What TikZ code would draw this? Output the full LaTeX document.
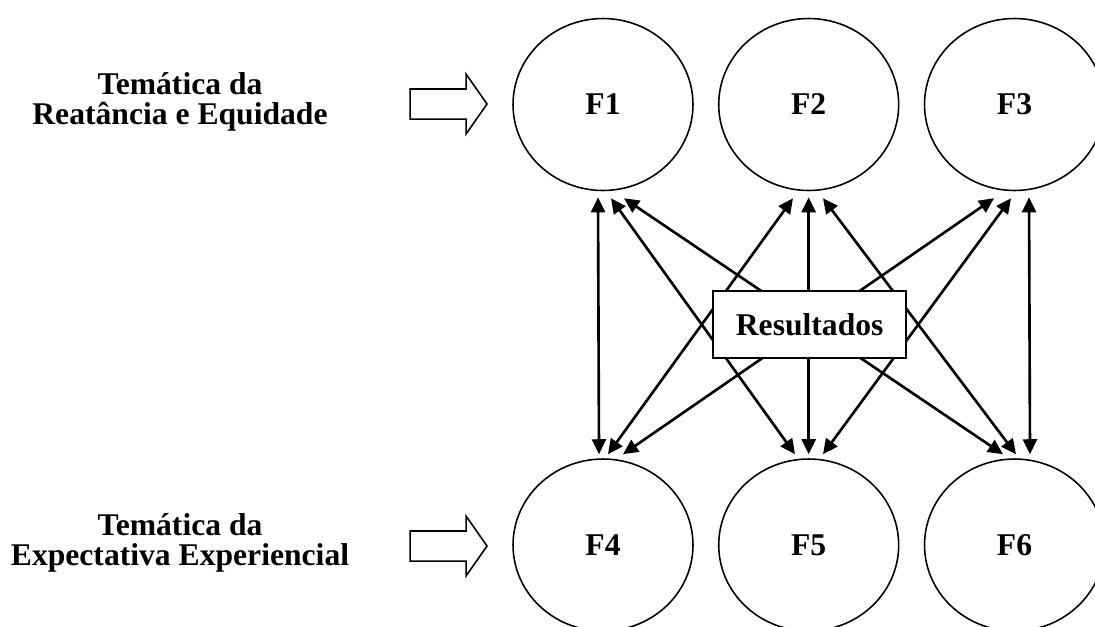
\documentclass[tikz,border=0pt]{standalone}
\usepackage{fontspec}
\setmainfont{Liberation Serif}
\usetikzlibrary{arrows.meta,shapes.geometric,shapes.arrows}

\begin{document}
\begin{tikzpicture}[x=0.02cm,y=-0.02cm,
  fator/.style={draw,ellipse,line width=0.9pt,minimum width=3.6cm,minimum height=3.44cm,inner sep=0pt,font=\fontsize{18}{20}\selectfont\bfseries},
  tema/.style={align=center,font=\fontsize{18}{17.4}\selectfont\bfseries},
  bloco/.style={draw,single arrow,line width=0.9pt,minimum height=1.54cm,inner sep=0.285cm,single arrow head extend=0.295cm,single arrow tip angle=110,anchor=tip},
  seta/.style={{Triangle[length=0.3cm,width=0.28cm]}-{Triangle[length=0.3cm,width=0.28cm]},line width=1.5pt}]

\useasboundingbox (0,0) rectangle (1095,626);
\clip (0,0) rectangle (1095,626);

% 1
\node[tema] (T1) at (180,102) {Temática da\\Reatância e Equidade};
\node[bloco] (S1) at (488,104) {};
\node[fator] (F1) at (603,104.5) {F1};
\node[fator] (F2) at (808.7,104.5) {F2};
\node[fator] (F3) at (1014.5,104.5) {F3};

% 2
\node[tema] (T2) at (180,543) {Temática da\\Expectativa Experiencial};
\node[bloco] (S2) at (488,546) {};
\node[fator] (F4) at (603,545) {F4};
\node[fator] (F5) at (808.7,545) {F5};
\node[fator] (F6) at (1014.5,545) {F6};


\draw[seta] ([shift={(-5,6)}]F1.south) -- ([shift={(-4,-4)}]F4.north);
\draw[seta] ([shift={(8,7)}]F1.south) -- ([shift={(-13.7,-4)}]F5.north);
\draw[seta] ([shift={(21,7)}]F1.south) -- ([shift={(-11.5,-4)}]F6.north);

\draw[seta] ([shift={(-15.7,7)}]F2.south) -- ([shift={(5,-4)}]F4.north);
\draw[seta] ([shift={(0,6)}]F2.south) -- ([shift={(0,-4)}]F5.north);
\draw[seta] ([shift={(14.3,7)}]F2.south) -- ([shift={(1.5,-4)}]F6.north);

\draw[seta] ([shift={(-20.5,7)}]F3.south) -- ([shift={(20,-4)}]F4.north);
\draw[seta] ([shift={(-3.5,7)}]F3.south) -- ([shift={(14.3,-4)}]F5.north);
\draw[seta] ([shift={(14.5,6)}]F3.south) -- ([shift={(15.5,-4)}]F6.north);


\node[draw,fill=white,line width=1.1pt,minimum width=3.86cm,minimum height=1.34cm,font=\fontsize{18}{20}\selectfont\bfseries] (R) at (809.7,324.7) {Resultados};

\end{tikzpicture}
\end{document}
